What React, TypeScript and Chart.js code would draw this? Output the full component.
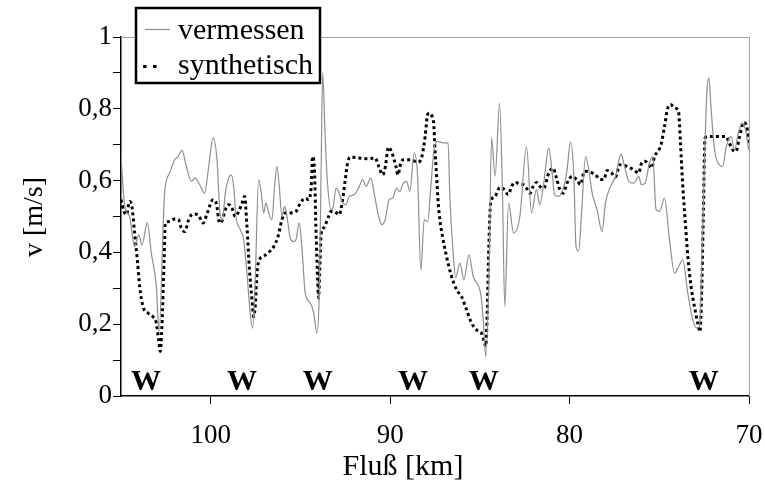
import React, { useEffect, useRef } from 'react';
import { Chart, registerables } from 'chart.js';

Chart.register(...registerables);

const SERIF = '"Liberation Serif", "Times New Roman", Times, serif';

const seriesLabels = ['vermessen', 'synthetisch'];
const xTitle = 'Fluß [km]';
const yTitle = 'v [m/s]';
const xTickValues = [100, 90, 80, 70];
const wehrKm = [103.6, 98.26, 94.03, 88.73, 84.78, 72.52];
const wehrLabel = 'W';

const kmVermessen = [105.0, 104.79, 104.52, 104.24, 104.01, 103.83, 103.53, 103.31, 103.03, 102.88, 102.57, 102.29, 102.01, 101.82, 101.6, 101.36, 101.08, 100.86, 100.62, 100.34, 100.11, 99.87, 99.65, 99.5, 99.35, 99.19, 99.0, 98.86, 98.72, 98.59, 98.35, 98.16, 97.98, 97.8, 97.66, 97.52, 97.33, 97.18, 97.05, 96.92, 96.77, 96.59, 96.44, 96.31, 96.18, 96.03, 95.88, 95.75, 95.57, 95.38, 95.25, 95.07, 94.92, 94.73, 94.45, 94.26, 94.08, 93.95, 93.84, 93.76, 93.62, 93.5, 93.3, 93.17, 93.02, 92.84, 92.65, 92.47, 92.28, 92.0, 91.72, 91.53, 91.35, 91.07, 90.89, 90.64, 90.46, 90.28, 90.05, 89.86, 89.64, 89.46, 89.27, 89.08, 88.9, 88.66, 88.47, 88.29, 88.1, 87.91, 87.73, 87.56, 87.38, 87.04, 86.77, 86.67, 86.49, 86.35, 86.11, 85.89, 85.61, 85.37, 84.94, 84.8, 84.67, 84.48, 84.35, 84.15, 83.9, 83.74, 83.61, 83.4, 83.12, 82.77, 82.4, 82.12, 81.85, 81.66, 81.44, 81.16, 80.97, 80.84, 80.6, 80.32, 80.14, 79.95, 79.76, 79.64, 79.49, 79.33, 79.11, 78.93, 78.74, 78.47, 78.19, 78.0, 77.76, 77.44, 77.13, 76.94, 76.7, 76.42, 76.14, 76.01, 75.79, 75.55, 75.36, 75.18, 74.99, 74.71, 74.43, 74.15, 73.93, 73.69, 73.41, 73.13, 72.89, 72.76, 72.58, 72.45, 72.34, 72.24, 72.11, 71.92, 71.65, 71.46, 71.28, 71.0, 70.81, 70.57, 70.39, 70.17, 70.03];
const vVermessen = [0.667, 0.528, 0.5, 0.416, 0.449, 0.421, 0.483, 0.398, 0.305, 0.18, 0.565, 0.621, 0.658, 0.667, 0.684, 0.64, 0.598, 0.607, 0.589, 0.565, 0.64, 0.719, 0.658, 0.519, 0.49, 0.565, 0.607, 0.616, 0.584, 0.5, 0.463, 0.435, 0.342, 0.231, 0.189, 0.324, 0.603, 0.565, 0.51, 0.537, 0.51, 0.491, 0.584, 0.64, 0.584, 0.5, 0.528, 0.5, 0.44, 0.43, 0.435, 0.482, 0.416, 0.286, 0.259, 0.231, 0.175, 0.286, 0.658, 0.9, 0.72, 0.6, 0.519, 0.528, 0.579, 0.565, 0.537, 0.533, 0.556, 0.561, 0.584, 0.603, 0.584, 0.607, 0.565, 0.5, 0.477, 0.491, 0.547, 0.551, 0.579, 0.57, 0.593, 0.598, 0.57, 0.677, 0.612, 0.351, 0.491, 0.486, 0.584, 0.686, 0.709, 0.705, 0.705, 0.55, 0.4, 0.33, 0.37, 0.324, 0.393, 0.333, 0.28, 0.203, 0.11, 0.36, 0.719, 0.612, 0.816, 0.565, 0.249, 0.537, 0.454, 0.5, 0.695, 0.51, 0.575, 0.533, 0.593, 0.691, 0.621, 0.561, 0.556, 0.584, 0.63, 0.707, 0.612, 0.416, 0.403, 0.51, 0.667, 0.63, 0.565, 0.519, 0.458, 0.537, 0.579, 0.612, 0.674, 0.64, 0.598, 0.593, 0.612, 0.589, 0.593, 0.649, 0.667, 0.519, 0.514, 0.551, 0.435, 0.342, 0.36, 0.379, 0.286, 0.212, 0.189, 0.193, 0.472, 0.705, 0.854, 0.886, 0.798, 0.686, 0.644, 0.64, 0.691, 0.723, 0.686, 0.737, 0.76, 0.737, 0.686];

const kmSynthetisch = [105.0, 104.83, 104.7, 104.52, 104.39, 104.24, 104.09, 103.96, 103.77, 103.5, 103.22, 103.03, 102.9, 102.81, 102.72, 102.6, 102.53, 102.29, 102.01, 101.79, 101.64, 101.45, 101.23, 100.99, 100.71, 100.43, 100.19, 99.87, 99.69, 99.5, 99.35, 99.19, 99.0, 98.82, 98.63, 98.44, 98.22, 98.11, 97.98, 97.85, 97.7, 97.61, 97.52, 97.42, 97.33, 97.05, 96.77, 96.49, 96.25, 96.03, 95.85, 95.57, 95.25, 95.01, 94.73, 94.54, 94.4, 94.32, 94.21, 94.14, 94.04, 93.99, 93.93, 93.84, 93.71, 93.43, 93.3, 93.12, 92.84, 92.65, 92.5, 92.37, 92.24, 91.72, 91.17, 90.83, 90.64, 90.42, 90.28, 90.09, 89.9, 89.68, 89.57, 89.4, 89.27, 88.84, 88.47, 88.23, 88.05, 87.91, 87.79, 87.64, 87.56, 87.51, 87.41, 87.32, 87.23, 87.08, 86.86, 86.63, 86.3, 86.02, 85.74, 85.46, 85.18, 84.91, 84.78, 84.67, 84.59, 84.5, 84.4, 84.16, 83.89, 83.66, 83.42, 83.23, 83.05, 82.77, 82.49, 82.21, 82.03, 81.84, 81.66, 81.44, 81.16, 80.92, 80.73, 80.54, 80.36, 80.14, 79.86, 79.61, 79.39, 79.17, 78.83, 78.56, 78.28, 78.09, 77.91, 77.69, 77.44, 77.2, 76.94, 76.6, 76.33, 76.14, 76.01, 75.79, 75.55, 75.42, 75.27, 75.08, 74.9, 74.71, 74.53, 74.38, 74.12, 73.93, 73.82, 73.69, 73.56, 73.41, 73.23, 73.04, 72.86, 72.73, 72.64, 72.54, 72.45, 72.21, 71.75, 71.28, 71.1, 70.91, 70.73, 70.54, 70.3, 70.13, 70.0];
const vSynthetisch = [0.547, 0.514, 0.505, 0.542, 0.528, 0.454, 0.379, 0.305, 0.249, 0.231, 0.221, 0.203, 0.156, 0.124, 0.193, 0.379, 0.482, 0.486, 0.493, 0.491, 0.468, 0.458, 0.491, 0.507, 0.505, 0.482, 0.51, 0.547, 0.537, 0.482, 0.49, 0.519, 0.533, 0.524, 0.5, 0.514, 0.542, 0.556, 0.472, 0.36, 0.268, 0.221, 0.249, 0.342, 0.375, 0.389, 0.4, 0.416, 0.444, 0.491, 0.51, 0.51, 0.514, 0.537, 0.551, 0.547, 0.584, 0.667, 0.621, 0.472, 0.324, 0.273, 0.342, 0.454, 0.468, 0.5, 0.514, 0.514, 0.505, 0.547, 0.603, 0.649, 0.665, 0.663, 0.661, 0.663, 0.64, 0.616, 0.635, 0.693, 0.677, 0.64, 0.616, 0.649, 0.658, 0.658, 0.651, 0.667, 0.723, 0.784, 0.788, 0.775, 0.751, 0.695, 0.612, 0.537, 0.491, 0.444, 0.389, 0.342, 0.296, 0.277, 0.24, 0.203, 0.184, 0.175, 0.156, 0.138, 0.231, 0.416, 0.537, 0.556, 0.581, 0.576, 0.561, 0.584, 0.595, 0.591, 0.586, 0.565, 0.584, 0.595, 0.584, 0.579, 0.621, 0.635, 0.607, 0.575, 0.565, 0.593, 0.612, 0.603, 0.589, 0.626, 0.623, 0.616, 0.603, 0.603, 0.628, 0.623, 0.61, 0.644, 0.642, 0.635, 0.626, 0.621, 0.645, 0.654, 0.642, 0.635, 0.667, 0.681, 0.7, 0.751, 0.802, 0.812, 0.802, 0.793, 0.705, 0.584, 0.491, 0.389, 0.305, 0.249, 0.203, 0.179, 0.286, 0.519, 0.719, 0.723, 0.723, 0.723, 0.705, 0.686, 0.681, 0.719, 0.762, 0.751, 0.7];

const GRAY = '#8f8f8f';

function fmtY(v: number): string {
  const k = Math.round(v * 10);
  if (k % 2 !== 0) return '';
  if (k === 0) return '0';
  if (k === 10) return '1';
  return (k / 10).toFixed(1).replace('.', ',');
}

export default function App() {
  const ref = useRef<HTMLCanvasElement>(null);

  useEffect(() => {
    const canvas = ref.current;
    if (!canvas) return;

    const decor = {
      id: 'decor',
      beforeDatasetsDraw(chart: any) {
        const { ctx, chartArea: a } = chart;
        ctx.save();
        ctx.strokeStyle = '#a0a0a0';
        ctx.lineWidth = 1;
        ctx.beginPath();
        ctx.moveTo(a.left, Math.round(a.top) + 0.5);
        ctx.lineTo(Math.round(a.right) + 0.5, Math.round(a.top) + 0.5);
        ctx.lineTo(Math.round(a.right) + 0.5, a.bottom);
        ctx.stroke();
        ctx.restore();
      },
      afterDatasetsDraw(chart: any) {
        const { ctx } = chart;
        const xs = chart.scales.x;
        const ys = chart.scales.y;
        ctx.save();
        ctx.fillStyle = '#000';
        ctx.font = `bold 30px ${SERIF}`;
        ctx.textAlign = 'center';
        ctx.textBaseline = 'alphabetic';
        wehrKm.forEach((km) => {
          ctx.fillText(wehrLabel, xs.getPixelForValue(km), ys.getPixelForValue(0.017));
        });
        ctx.restore();
      },
      afterDraw(chart: any) {
        const { ctx } = chart;
        ctx.save();
        ctx.fillStyle = '#000';
        ctx.textAlign = 'center';
        ctx.textBaseline = 'middle';
        ctx.font = `30px ${SERIF}`;
        ctx.fillText(xTitle, 403, 467);
        ctx.font = `28px ${SERIF}`;
        ctx.save();
        ctx.translate(35, 217);
        ctx.rotate(-Math.PI / 2);
        ctx.fillText(yTitle, 0, 0);
        ctx.restore();

        // legend box
        const bx = 136, by = 8, bw = 184, bh = 75;
        ctx.fillStyle = '#fff';
        ctx.fillRect(bx, by, bw, bh);
        ctx.strokeStyle = '#000';
        ctx.lineWidth = 2.5;
        ctx.strokeRect(bx, by, bw, bh);

        ctx.strokeStyle = GRAY;
        ctx.lineWidth = 1.2;
        ctx.beginPath();
        ctx.moveTo(145, 29.5);
        ctx.lineTo(170, 29.5);
        ctx.stroke();

        ctx.strokeStyle = '#000';
        ctx.lineWidth = 3;
        ctx.setLineDash([3.5, 6.5]);
        ctx.beginPath();
        ctx.moveTo(143, 66.5);
        ctx.lineTo(158, 66.5);
        ctx.stroke();
        ctx.setLineDash([]);

        ctx.fillStyle = '#000';
        ctx.font = `30px ${SERIF}`;
        ctx.textAlign = 'left';
        ctx.textBaseline = 'alphabetic';
        ctx.fillText(seriesLabels[0], 178, 39);
        ctx.fillText(seriesLabels[1], 178, 74);
        ctx.restore();
      },
    };

    const chart = new Chart(canvas, {
      type: 'line',
      data: {
        datasets: [
          {
            label: seriesLabels[0],
            data: kmVermessen.map((x, i) => ({ x, y: vVermessen[i] })),
            borderColor: GRAY,
            borderWidth: 1.2,
            pointRadius: 0,
            cubicInterpolationMode: 'monotone',
            fill: false,
          },
          {
            label: seriesLabels[1],
            data: kmSynthetisch.map((x, i) => ({ x, y: vSynthetisch[i] })),
            borderColor: '#000',
            borderWidth: 3,
            borderDash: [3, 3],
            borderCapStyle: 'butt',
            pointRadius: 0,
            cubicInterpolationMode: 'monotone',
            fill: false,
          },
        ],
      },
      options: {
        responsive: false,
        animation: false,
        events: [],
        layout: { padding: { top: 37, right: 16, left: 0, bottom: 0 } },
        plugins: {
          legend: { display: false },
          tooltip: { enabled: false },
          title: { display: false },
        },
        scales: {
          x: {
            type: 'linear',
            min: 70,
            max: 105,
            reverse: true,
            afterBuildTicks: (s: any) => {
              s.ticks = xTickValues.map((v) => ({ value: v }));
            },
            afterFit: (s: any) => {
              s.height = 89;
              s.paddingLeft = 0;
              s.paddingRight = 0;
            },
            grid: { drawOnChartArea: false, drawTicks: true, tickLength: 8, color: '#000', lineWidth: 1 },
            border: { color: '#000', width: 1.5 },
            ticks: {
              color: '#000',
              font: { family: SERIF, size: 27 },
              padding: 16,
              maxRotation: 0,
              autoSkip: false,
              callback: (v: any) => String(v),
            },
          },
          y: {
            type: 'linear',
            min: 0,
            max: 1,
            afterFit: (s: any) => {
              s.width = 121;
              s.paddingTop = 0;
              s.paddingBottom = 0;
            },
            grid: { drawOnChartArea: false, drawTicks: true, tickLength: 8, color: '#000', lineWidth: 1 },
            border: { color: '#000', width: 1.5 },
            ticks: {
              color: '#000',
              stepSize: 0.1,
              autoSkip: false,
              font: { family: SERIF, size: 27 },
              padding: 1,
              callback: (v: any) => fmtY(Number(v)),
            },
          },
        },
      },
      plugins: [decor],
    } as any);

    return () => chart.destroy();
  }, []);

  return (
    <div style={{ position: 'fixed', left: 0, top: 0, width: 765, height: 485, background: '#fff' }}>
      <canvas ref={ref} width={765} height={485} style={{ width: 765, height: 485, display: 'block' }} />
    </div>
  );
}
